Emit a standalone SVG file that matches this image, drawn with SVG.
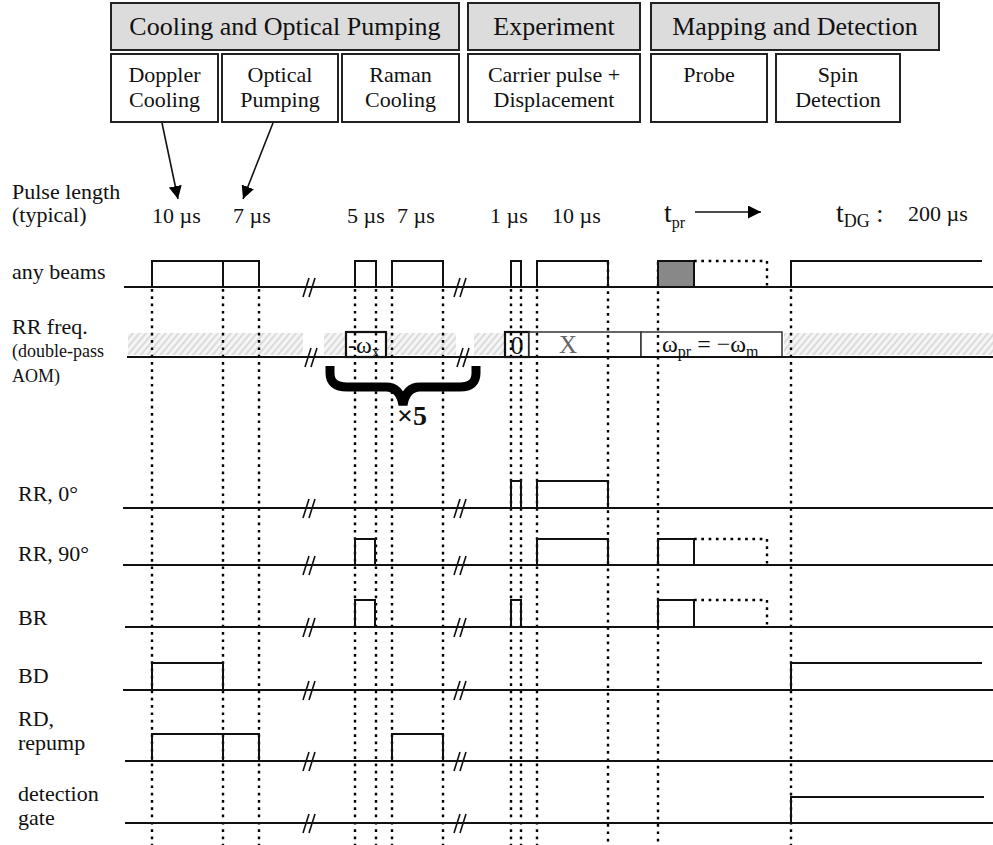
<svg xmlns="http://www.w3.org/2000/svg" width="993" height="845" viewBox="0 0 993 845">
<style>
text{font-family:"Liberation Serif","Times New Roman",serif;fill:#111}
.hdr{fill:#dcdcdc;stroke:#222;stroke-width:2}
.sub{fill:#fff;stroke:#222;stroke-width:2}
.ht{font-size:26px;text-anchor:middle}
.st{font-size:22px;text-anchor:middle}
.lbl{font-size:22px}
.small{font-size:18px}
.base{stroke:#111;stroke-width:2;fill:none}
.pulse{stroke:#111;stroke-width:2;fill:none}
.dot{stroke:#000;stroke-width:2.4;stroke-dasharray:2.7 4.6;fill:none}
.brk{stroke:#111;stroke-width:1.6;fill:none}
.hatch{fill:url(#hatch)}
</style>
<defs>
<pattern id="hatch" width="5" height="5" patternUnits="userSpaceOnUse" patternTransform="rotate(40)">
<rect width="5" height="5" fill="#f5f5f5"/>
<line x1="1" y1="0" x2="1" y2="5" stroke="#cdcdcd" stroke-width="1.3"/>
</pattern>
<marker id="ah" viewBox="0 0 10 10" refX="10" refY="5" markerWidth="13" markerHeight="13" markerUnits="userSpaceOnUse" orient="auto">
<path d="M0 0 L10 5 L0 10 Z" fill="#000"/>
</marker>
</defs>
<rect width="993" height="845" fill="#fff"/>

<!-- Header phases -->
<g id="phase-cooling"><rect class="hdr" x="111" y="3" width="348" height="47"/><text class="ht" x="285" y="35">Cooling and Optical Pumping</text></g>
<g id="phase-experiment"><rect class="hdr" x="468" y="3" width="172" height="47"/><text class="ht" x="554" y="35">Experiment</text></g>
<g id="phase-mapping"><rect class="hdr" x="651" y="3" width="288" height="47"/><text class="ht" x="795" y="35">Mapping and Detection</text></g>

<!-- Sub steps -->
<g id="step-doppler"><rect class="sub" x="111" y="54" width="107" height="68"/><text class="st" x="164.5" y="82">Doppler</text><text class="st" x="164.5" y="107">Cooling</text></g>
<g id="step-optical"><rect class="sub" x="222" y="54" width="116" height="68"/><text class="st" x="280" y="82">Optical</text><text class="st" x="280" y="107">Pumping</text></g>
<g id="step-raman"><rect class="sub" x="342" y="54" width="117" height="68"/><text class="st" x="400.5" y="82">Raman</text><text class="st" x="400.5" y="107">Cooling</text></g>
<g id="step-carrier"><rect class="sub" x="468" y="54" width="172" height="68"/><text class="st" x="554" y="82">Carrier pulse +</text><text class="st" x="554" y="107">Displacement</text></g>
<g id="step-probe"><rect class="sub" x="651" y="54" width="116" height="68"/><text class="st" x="709" y="82">Probe</text></g>
<g id="step-spin"><rect class="sub" x="776" y="54" width="124" height="68"/><text class="st" x="838" y="82">Spin</text><text class="st" x="838" y="107">Detection</text></g>

<!-- Connectors -->
<g id="connectors">
<line x1="162" y1="123" x2="178" y2="199" stroke="#111" stroke-width="1.6" marker-end="url(#ah)"/>
<line x1="273" y1="123" x2="243" y2="199" stroke="#111" stroke-width="1.6" marker-end="url(#ah)"/>
<line x1="695" y1="212" x2="761" y2="212" stroke="#111" stroke-width="1.6" marker-end="url(#ah)"/>
</g>

<!-- Pulse length row -->
<g id="pulse-lengths">
<text class="lbl" x="12" y="199">Pulse length</text>
<text class="lbl" x="12" y="222">(typical)</text>
<text class="lbl" x="152" y="223">10 µs</text>
<text class="lbl" x="233" y="223">7 µs</text>
<text class="lbl" x="347" y="223">5 µs</text>
<text class="lbl" x="397" y="223">7 µs</text>
<text class="lbl" x="490" y="223">1 µs</text>
<text class="lbl" x="552" y="223">10 µs</text>
<text x="664" y="222" font-size="28">t<tspan font-size="16" dy="6">pr</tspan></text>
<text x="836" y="222" font-size="28">t<tspan font-size="18" dy="5">DG</tspan><tspan dy="-5" font-size="26"> :</tspan></text>
<text class="lbl" x="908" y="221">200 µs</text>
</g>

<!-- Row labels -->
<g id="labels">
<text class="lbl" x="12" y="279">any beams</text>
<text class="lbl" x="12" y="334">RR freq.</text>
<text class="small" x="12" y="357">(double-pass</text>
<text class="small" x="12" y="382">AOM)</text>
<text class="lbl" x="18" y="501">RR, 0°</text>
<text class="lbl" x="18" y="561">RR, 90°</text>
<text class="lbl" x="18" y="625">BR</text>
<text class="lbl" x="18" y="683">BD</text>
<text class="lbl" x="18" y="726">RD,</text>
<text class="lbl" x="18" y="750">repump</text>
<text class="lbl" x="18" y="801">detection</text>
<text class="lbl" x="18" y="825">gate</text>
</g>

<!-- RR freq hatch band -->
<g id="rr-freq-band">
<rect class="hatch" x="128" y="333" width="175" height="22"/>
<rect class="hatch" x="324" y="333" width="22" height="22"/>
<rect class="hatch" x="386" y="333" width="70" height="22"/>
<rect class="hatch" x="474" y="333" width="31" height="22"/>
<rect class="hatch" x="784" y="333" width="209" height="22"/>
<rect x="346" y="332" width="40" height="25" fill="#fff" stroke="#111" stroke-width="2.2"/>
<rect x="505" y="332" width="24" height="25" fill="#fff" stroke="#111" stroke-width="2.2"/>
<rect x="529" y="332" width="112" height="25" fill="#fff" stroke="#333" stroke-width="1.5"/>
<rect x="641" y="332" width="141" height="25" fill="#fff" stroke="#333" stroke-width="1.5"/>
<text x="348" y="353" font-size="24">-ω<tspan font-size="16" dy="4">x</tspan></text>
<text x="517" y="354" font-size="26" text-anchor="middle">0</text>
<text x="568" y="353" font-size="25" text-anchor="middle" style="fill:#666">X</text>
<text x="662" y="352" font-size="24">ω<tspan font-size="16" dy="5">pr</tspan><tspan dy="-5"> = −ω</tspan><tspan font-size="16" dy="5">m</tspan></text>
</g>

<!-- Dotted time markers -->
<g id="markers">
<path class="dot" d="M152 289V845M223 289V845M259 289V845M355 289V845M376 289V845M392 289V845M443 289V845M511 289V845M521 289V845M537 289V845M608 262V845M658 262V845M791 289V845"/>
</g>

<!-- Baselines -->
<g id="baselines">
<path class="base" d="M124 287H993M127 357H993M123 508H993M123 565H993M125 627H993M123 690H993M125 761H993M125 823H993"/>
</g>

<!-- Break marks -->
<g id="breaks">
<path class="brk" d="M303 297L309 278M309 297L315 278M454 297L460 278M460 297L466 278
M305 367L311 348M311 367L317 348M457 367L463 348M463 367L469 348
M303 518L309 499M309 518L315 499M454 518L460 499M460 518L466 499
M303 575L309 556M309 575L315 556M454 575L460 556M460 575L466 556
M303 637L309 618M309 637L315 618M454 637L460 618M460 637L466 618
M303 700L309 681M309 700L315 681M454 700L460 681M460 700L466 681
M303 771L309 752M309 771L315 752M454 771L460 752M460 771L466 752
M303 833L309 814M309 833L315 814M454 833L460 814M460 833L466 814"/>
</g>

<!-- Pulses -->
<g id="row-any-beams">
<path class="pulse" d="M152 287V261H223V287M223 261H259V287M355 287V261H376V287M392 287V261H443V287M511 287V261H521V287M537 287V261H608V287M791 287V261H982"/>
<rect x="658" y="261" width="36" height="26" fill="#888" stroke="#111" stroke-width="2"/>
<path class="dot" d="M694 261H767V287"/>
</g>
<g id="row-rr0"><path class="pulse" d="M511 508V481H521V508M537 508V481H608V508"/></g>
<g id="row-rr90">
<path class="pulse" d="M355 565V539H375V565M537 565V539H608V565M658 565V539H694V565"/>
<path class="dot" d="M694 539H767V565"/>
</g>
<g id="row-br">
<path class="pulse" d="M355 627V600H375V627M511 627V600H521V627M658 627V600H694V627"/>
<path class="dot" d="M694 600H767V627"/>
</g>
<g id="row-bd"><path class="pulse" d="M152 690V663H223V690M791 690V663H982"/></g>
<g id="row-rd"><path class="pulse" d="M152 761V734H223V761M223 734H259V761M392 761V734H443V761"/></g>
<g id="row-gate"><path class="pulse" d="M791 823V797H984"/></g>

<!-- Brace x5 -->
<g id="brace">
<path d="M330 366 L330 373 Q330 387 347 387 L386 387 Q400 387 403 405 Q406 387 420 387 L460 387 Q476 387 476 373 L476 366" fill="none" stroke="#000" stroke-width="9"/>
<text x="397" y="425" font-size="28" font-weight="bold">×5</text>
</g>
</svg>
